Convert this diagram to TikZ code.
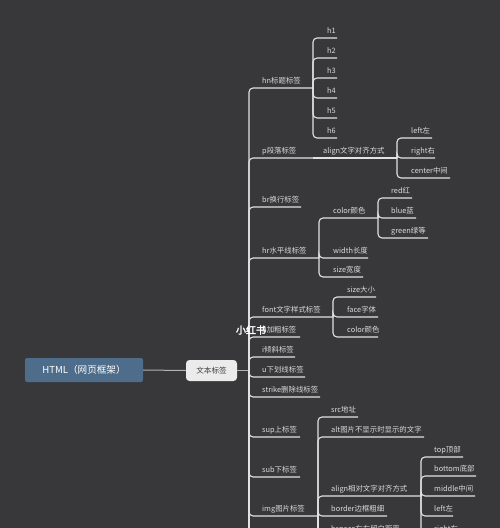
\documentclass[tikz,border=0pt]{standalone}
\usepackage{fontspec}
\newfontfamily\cjk{Noto Sans CJK SC}
\newfontfamily\cjkb[FakeBold=2.5]{Noto Sans CJK SC}
\definecolor{bg}{HTML}{38383A}
\definecolor{linec}{HTML}{E2E2E2}
\definecolor{txt}{HTML}{DADADA}
\definecolor{rootc}{HTML}{4E6D8A}
\definecolor{boxc}{HTML}{EBEBEB}
\tikzset{
  conn/.style={draw=linec, line width=1.1pt, rounded corners=4pt},
  lab/.style={font=\cjk\fontsize{7.4}{9}\selectfont, text=txt, anchor=base west, inner sep=0pt},
  rootbox/.style={fill=rootc, rounded corners=2pt, minimum width=118pt, minimum height=24pt, inner sep=0pt, text=white, font=\cjk\fontsize{9.6}{11}\selectfont},
  catbox/.style={fill=boxc, rounded corners=3.5pt, minimum width=51pt, minimum height=21pt, inner sep=0pt, text=black!75, font=\cjk\fontsize{7.6}{9}\selectfont},
  rootline/.style={draw=black!30, line width=1pt}
}
\newcommand\mnode[5]{\node[lab] (#1) at (#2,{#3-4.3}) {#4}; \coordinate (#1e) at (#5,#3);}
\begin{document}
\begin{tikzpicture}[x=1pt,y=-1pt]
\fill[bg] (0,0) rectangle (500,528);
\useasboundingbox (0,0) rectangle (500,528);
\clip (0,0) rectangle (500,528);
% root and category
\node[rootbox] (root) at (84,370) {HTML（网页框架）};
\node[catbox] (wb) at (211.5,370.5) {文本标签};
\draw[rootline] (root.east) -- (wb.west);
\coordinate (J) at (249,370.5);
\draw[rootline] (wb.east) -- (J);
% main children
\mnode{hn}{262}{88}{hn标题标签}{313}
\mnode{p}{262}{158}{p段落标签}{313}
\mnode{br}{262}{207}{br换行标签}{301}
\mnode{hr}{262}{258}{hr水平线标签}{319}
\mnode{font}{262}{317}{font文字样式标签}{333}
\mnode{b}{262}{337}{b加粗标签}{300}
\mnode{i}{262}{357}{i倾斜标签}{295}
\mnode{u}{262}{377}{u下划线标签}{305}
\mnode{strike}{262}{397}{strike删除线标签}{320}
\mnode{sup}{262}{437}{sup上标签}{300}
\mnode{sub}{262}{477}{sub下标签}{300}
\mnode{img}{262}{516}{img图片标签}{318}
\coordinate (Jbot) at (249,600);
\foreach \c in {hne,pe,bre,hre,fonte,be,ie,ue,strikee,supe,sube,imge,Jbot}
  \draw[conn] (J) |- (\c);
% hn children
\mnode{h1}{327}{38}{h1}{337}
\mnode{h2}{327}{58}{h2}{337}
\mnode{h3}{327}{78}{h3}{337}
\mnode{h4}{327}{98}{h4}{337}
\mnode{h5}{327}{118}{h5}{337}
\mnode{h6}{327}{138}{h6}{337}
\foreach \c in {h1e,h2e,h3e,h4e,h5e,h6e}
  \draw[conn] (hne) |- (\c);
% p children
\mnode{pal}{323}{158}{align文字对齐方式}{397}
\draw[conn] (pe) -- (pale);
\mnode{pl}{411}{138}{left左}{432}
\mnode{pr}{411}{158}{right右}{435}
\mnode{pc}{411}{178}{center中间}{450}
\foreach \c in {ple,pre,pce}
  \draw[conn] (pale) |- (\c);
% hr children
\mnode{hrc}{333}{218}{color颜色}{378}
\mnode{hrw}{333}{258}{width长度}{368}
\mnode{hrs}{333}{277}{size宽度}{363}
\foreach \c in {hrce,hrwe,hrse}
  \draw[conn] (hre) |- (\c);
\mnode{red}{391}{198}{red红}{412}
\mnode{blue}{391}{218}{blue蓝}{416}
\mnode{green}{391}{238}{green绿等}{428}
\foreach \c in {rede,bluee,greene}
  \draw[conn] (hrce) |- (\c);
% font children
\mnode{fs}{347}{297}{size大小}{376}
\mnode{ff}{347}{317}{face字体}{378}
\mnode{fc}{347}{337}{color颜色}{378}
\foreach \c in {fse,ffe,fce}
  \draw[conn] (fonte) |- (\c);
% img children
\mnode{src}{331}{417}{src地址}{358}
\mnode{alt}{331}{437}{alt图片不显示时显示的文字}{424}
\mnode{ial}{331}{496}{align相对文字对齐方式}{421}
\mnode{bord}{331}{516}{border边框粗细}{387}
\mnode{hsp}{331}{536}{hspace左右留白距离}{405}
\coordinate (imgbot) at (318,600);
\foreach \c in {srce,alte,iale,borde,hspe,imgbot}
  \draw[conn] (imge) |- (\c);
\mnode{top}{434}{457}{top顶部}{463}
\mnode{bot}{434}{476}{bottom底部}{476}
\mnode{mid}{434}{496}{middle中间}{475}
\mnode{al}{434}{516}{left左}{453}
\mnode{ar}{434}{536}{right右}{460}
\foreach \c in {tope,bote,mide,ale,are}
  \draw[conn] (iale) |- (\c);
% watermark
\node[font=\cjkb\fontsize{10}{12}\selectfont, text=white, inner sep=0pt] (wm) at (251,330) {小红书};
\end{tikzpicture}
\end{document}
